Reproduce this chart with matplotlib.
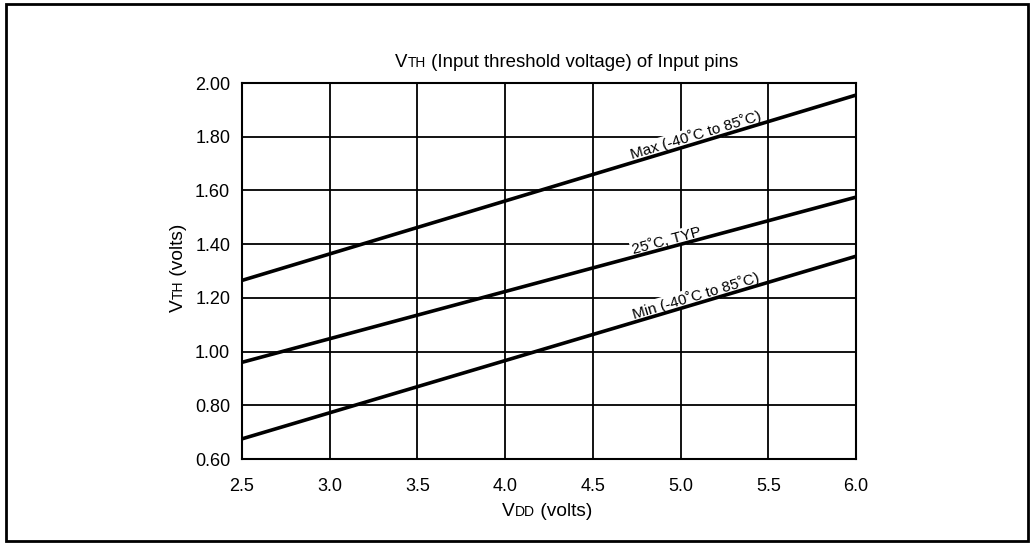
import numpy as np
import matplotlib
matplotlib.use("Agg")
import matplotlib.pyplot as plt
from matplotlib.patches import Rectangle

# ---- data ----
vdd = [2.5, 6.0]
vth_max = [1.265, 1.955]
vth_typ = [0.960, 1.575]
vth_min = [0.675, 1.355]
line_labels = ["Max (-40\u02daC to 85\u02daC)", "25\u02daC, TYP", "Min (-40\u02daC to 85\u02daC)"]
label_x = [5.10, 4.93, 5.10]
xticks = [2.5, 3.0, 3.5, 4.0, 4.5, 5.0, 5.5, 6.0]
xticklabels = ["2.5", "3.0", "3.5", "4.0", "4.5", "5.0", "5.5", "6.0"]
yticks = [0.60, 0.80, 1.00, 1.20, 1.40, 1.60, 1.80, 2.00]
yticklabels = ["0.60", "0.80", "1.00", "1.20", "1.40", "1.60", "1.80", "2.00"]

plt.rcParams['font.family'] = ['Liberation Sans', 'DejaVu Sans']
FAM = ['Liberation Sans', 'DejaVu Sans']

W, H = 1033, 546
fig = plt.figure(figsize=(W / 100, H / 100), dpi=100)
fig.patch.set_facecolor("white")

# axes placement in pixels
L, R, T, B = 242, 856, 83, 459
ax = fig.add_axes([L / W, 1 - B / H, (R - L) / W, (B - T) / H])
ax.set_xlim(2.5, 6.0)
ax.set_ylim(0.60, 2.00)
ax.set_xticks(xticks)
ax.set_xticklabels(xticklabels)
ax.set_yticks(yticks)
ax.set_yticklabels(yticklabels)
ax.tick_params(length=0, labelsize=13, colors="black")
ax.tick_params(axis="y", pad=8.5)
ax.tick_params(axis="x", pad=14)
ax.grid(True, color="black", linewidth=1.3)
ax.set_axisbelow(True)
for s in ax.spines.values():
    s.set_linewidth(1.5)
    s.set_color("black")

for ys in (vth_max, vth_typ, vth_min):
    ax.plot(vdd, ys, color="black", linewidth=2.6, solid_capstyle="butt", zorder=5)

for ys, lab, lx in zip((vth_max, vth_typ, vth_min), line_labels, label_x):
    slope = (ys[1] - ys[0]) / (vdd[1] - vdd[0])
    ly = ys[0] + slope * (lx - vdd[0])
    ang = np.degrees(np.arctan2(ys[1] - ys[0], vdd[1] - vdd[0]))
    ax.text(lx, ly, lab, rotation=ang, transform_rotates_text=True,
            rotation_mode="anchor", ha="center", va="bottom", fontsize=11,
            family=FAM,
            bbox=dict(facecolor="white", edgecolor="none", pad=1.0), zorder=4)


def chain_text_h(x, y_top, parts, sizes, family):
    bx, by = x, H - y_top
    t = ax.annotate(parts[0], xy=(bx, by), xycoords="figure pixels", family=family,
                    fontsize=sizes[0], ha="left", va="baseline", annotation_clip=False)
    for p, s in zip(parts[1:], sizes[1:]):
        t = ax.annotate(p, xy=(1.0, by), xycoords=(t, "figure pixels"), family=family,
                        fontsize=s, ha="left", va="baseline", annotation_clip=False)


def chain_text_v(x_base, y_top, parts, sizes, family):
    bx, by = x_base, H - y_top
    t = ax.annotate(parts[0], xy=(bx, by), xycoords="figure pixels", rotation=90,
                    rotation_mode="anchor", fontsize=sizes[0], ha="left", va="baseline",
                    family=family, annotation_clip=False)
    for p, s in zip(parts[1:], sizes[1:]):
        t = ax.annotate(p, xy=(bx, 1.0), xycoords=("figure pixels", t), rotation=90,
                        rotation_mode="anchor", fontsize=s, ha="left", va="baseline",
                        family=family, annotation_clip=False)


# title
chain_text_h(395, 67, ["V", "TH", " (Input threshold voltage) of Input pins"], [13.4, 9.8, 13.4], FAM)
# x label
chain_text_h(502, 516, ["V", "DD", " (volts)"], [13.8, 10, 13.8], FAM)
# y label
chain_text_v(183, 312, ["V", "TH", " (volts)"], [13.8, 10, 13.8], FAM)

# page border
fig.patches.append(Rectangle((6 / W, 5 / H), 1022 / W, 537 / H, transform=fig.transFigure,
                             fill=False, edgecolor="black", linewidth=2))

fig.savefig("out.png", dpi=100)
